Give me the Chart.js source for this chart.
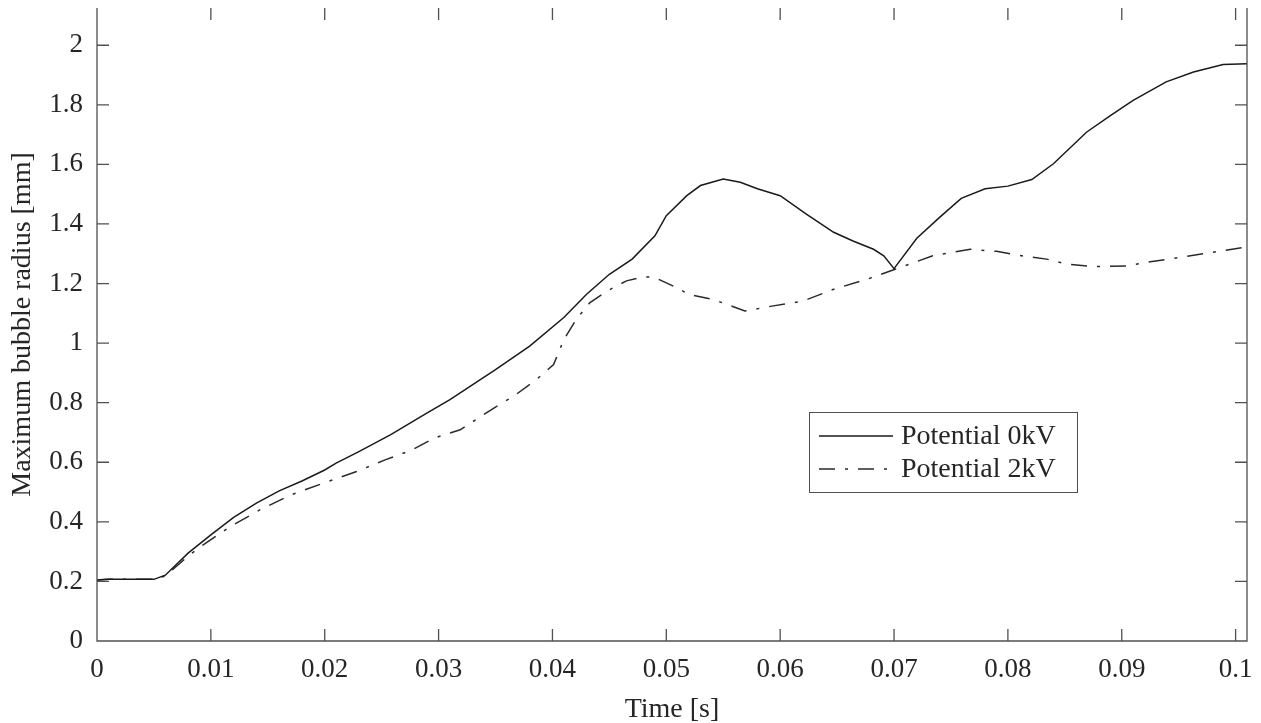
<!DOCTYPE html>
<html>
<head>
<meta charset="utf-8">
<script src="https://cdn.jsdelivr.net/npm/chart.js@4.4.1/dist/chart.umd.min.js"></script>
<style>
  html, body { margin: 0; padding: 0; background: #fff; }
  #wrap { width: 1261px; height: 723px; }
</style>
</head>
<body>
<div id="wrap"><canvas id="myChart" width="1261" height="723"></canvas></div>
<script>
// time [s] and radius [mm], potential 0kV
const time0 = [0, 0.001, 0.005, 0.006, 0.008, 0.010, 0.012, 0.014, 0.016, 0.018, 0.020, 0.021, 0.023, 0.0258,
  0.029, 0.031, 0.033, 0.035, 0.038, 0.041, 0.043, 0.045, 0.047, 0.049, 0.050, 0.0518, 0.053, 0.055, 0.0565,
  0.058, 0.060, 0.0623, 0.0647, 0.0664, 0.0682, 0.0691, 0.070, 0.072, 0.074, 0.0759, 0.078, 0.080, 0.0821,
  0.084, 0.0869, 0.089, 0.091, 0.0939, 0.0963, 0.0989, 0.101];
const radius0 = [0.205, 0.207, 0.207, 0.221, 0.295, 0.356, 0.415, 0.463, 0.504, 0.537, 0.574, 0.597, 0.636, 0.693,
  0.766, 0.810, 0.861, 0.911, 0.990, 1.086, 1.164, 1.231, 1.282, 1.360, 1.428, 1.495, 1.529, 1.551, 1.540,
  1.518, 1.495, 1.433, 1.372, 1.343, 1.315, 1.293, 1.250, 1.352, 1.422, 1.486, 1.518, 1.527, 1.549,
  1.602, 1.708, 1.764, 1.815, 1.877, 1.910, 1.935, 1.938];

// potential 2kV
const time2 = [0, 0.001, 0.005, 0.006, 0.008, 0.0091, 0.0117, 0.0143, 0.0170, 0.0199, 0.0228, 0.0253, 0.0276,
  0.0296, 0.0319, 0.0351, 0.0366, 0.0386, 0.0401, 0.041, 0.0421, 0.0433, 0.0448, 0.0465, 0.048, 0.0489,
  0.0512, 0.0519, 0.0541, 0.0569, 0.0594, 0.062, 0.0647, 0.0676, 0.0701, 0.0734, 0.0767, 0.079, 0.0816,
  0.0834, 0.0852, 0.0875, 0.0904, 0.0925, 0.0957, 0.101];
const radius2 = [0.205, 0.207, 0.207, 0.218, 0.285, 0.317, 0.384, 0.440, 0.490, 0.530, 0.569, 0.608, 0.640,
  0.681, 0.709, 0.788, 0.822, 0.878, 0.928, 1.012, 1.080, 1.136, 1.175, 1.209, 1.222, 1.222,
  1.181, 1.164, 1.147, 1.108, 1.125, 1.141, 1.181, 1.214, 1.248, 1.293, 1.315, 1.308, 1.291,
  1.282, 1.265, 1.257, 1.259, 1.273, 1.291, 1.323];

const seriesLabels = ['Potential 0kV', 'Potential 2kV'];
const xTicks = [0, 0.01, 0.02, 0.03, 0.04, 0.05, 0.06, 0.07, 0.08, 0.09, 0.1];
const yTicks = [0, 0.2, 0.4, 0.6, 0.8, 1, 1.2, 1.4, 1.6, 1.8, 2];

const FONT = 'Liberation Serif, Times New Roman, serif';
const INK = '#262626';
const AXIS = '#505050';
const DASHDOT = [16, 10, 3, 10];

const toPoints = (xs, ys) => xs.map((x, i) => ({ x: x, y: ys[i] }));
const fmt = (v) => String(Number(v.toFixed(2)));

// box on left/bottom/right, inward ticks on all four sides
const matlabAxes = {
  id: 'matlabAxes',
  afterDatasetsDraw(chart) {
    const { ctx, chartArea: a, scales } = chart;
    const tl = 12;
    ctx.save();
    ctx.strokeStyle = AXIS;
    ctx.lineWidth = 1.3;
    ctx.beginPath();
    ctx.moveTo(a.left, a.top); ctx.lineTo(a.left, a.bottom);
    ctx.lineTo(a.right, a.bottom); ctx.lineTo(a.right, a.top);
    xTicks.forEach((v) => {
      const px = scales.x.getPixelForValue(v);
      ctx.moveTo(px, a.bottom); ctx.lineTo(px, a.bottom - tl);
      ctx.moveTo(px, a.top); ctx.lineTo(px, a.top + tl);
    });
    yTicks.forEach((v) => {
      const py = scales.y.getPixelForValue(v);
      ctx.moveTo(a.left, py); ctx.lineTo(a.left + tl, py);
      ctx.moveTo(a.right, py); ctx.lineTo(a.right - tl, py);
    });
    ctx.stroke();
    ctx.restore();
  }
};

// boxed legend inside the plot
const boxLegend = {
  id: 'boxLegend',
  afterDraw(chart) {
    const { ctx } = chart;
    const bx = 809, by = 412, bw = 268, bh = 80;
    ctx.save();
    ctx.fillStyle = '#fff';
    ctx.fillRect(bx, by, bw, bh);
    ctx.strokeStyle = AXIS;
    ctx.lineWidth = 1;
    ctx.strokeRect(bx + 0.5, by + 0.5, bw, bh);
    ctx.font = '28px ' + FONT;
    ctx.textBaseline = 'middle';
    chart.data.datasets.forEach((ds, i) => {
      const ly = by + 24 + i * 33;
      ctx.strokeStyle = ds.borderColor;
      ctx.lineWidth = ds.borderWidth;
      ctx.setLineDash(ds.borderDash || []);
      ctx.beginPath();
      ctx.moveTo(bx + 10, ly); ctx.lineTo(bx + 84, ly);
      ctx.stroke();
      ctx.setLineDash([]);
      ctx.fillStyle = INK;
      ctx.fillText(ds.label, bx + 92, ly + 1);
    });
    ctx.restore();
  }
};

const ctx = document.getElementById('myChart');

const myChart = new Chart(ctx, {
  type: 'line',
  data: {
    datasets: [{
      label: seriesLabels[0],
      data: toPoints(time0, radius0),
      borderColor: '#1a1a1a',
      borderWidth: 1.5,
      pointRadius: 0,
      tension: 0,
      fill: false
    }, {
      label: seriesLabels[1],
      data: toPoints(time2, radius2),
      borderColor: '#2a2a2a',
      borderWidth: 1.5,
      borderDash: DASHDOT,
      pointRadius: 0,
      tension: 0,
      fill: false
    }]
  },
  options: {
    responsive: false,
    animation: false,
    layout: { padding: { top: 8, right: 14, left: 0, bottom: 0 } },
    plugins: {
      legend: { display: false },
      tooltip: { enabled: false }
    },
    scales: {
      x: {
        type: 'linear',
        min: 0,
        max: 0.101,
        afterBuildTicks: (scale) => { scale.ticks = xTicks.map((v) => ({ value: v })); },
        afterFit: (scale) => {
          scale.height = 82;
          scale.paddingLeft = 0;
          scale.paddingRight = 0;
        },
        grid: { display: false, drawTicks: false },
        border: { display: false },
        ticks: {
          padding: 13,
          color: INK,
          font: { family: FONT, size: 27 },
          maxRotation: 0,
          callback: (v) => fmt(v)
        },
        title: {
          display: true,
          text: 'Time [s]',
          color: INK,
          font: { family: FONT, size: 28 },
          padding: { top: 0, bottom: -3 }
        }
      },
      y: {
        type: 'linear',
        min: 0,
        max: 2.125,
        afterBuildTicks: (scale) => { scale.ticks = yTicks.map((v) => ({ value: v })); },
        afterFit: (scale) => {
          scale.width = 97;
          scale.paddingTop = 0;
          scale.paddingBottom = 0;
        },
        grid: { display: false, drawTicks: false },
        border: { display: false },
        ticks: {
          padding: 14,
          color: INK,
          font: { family: FONT, size: 27 },
          callback: (v) => fmt(v)
        },
        title: {
          display: true,
          text: 'Maximum bubble radius [mm]',
          color: INK,
          font: { family: FONT, size: 28 },
          padding: { top: 6, bottom: 0 }
        }
      }
    }
  },
  plugins: [matlabAxes, boxLegend]
});
</script>
</body>
</html>
